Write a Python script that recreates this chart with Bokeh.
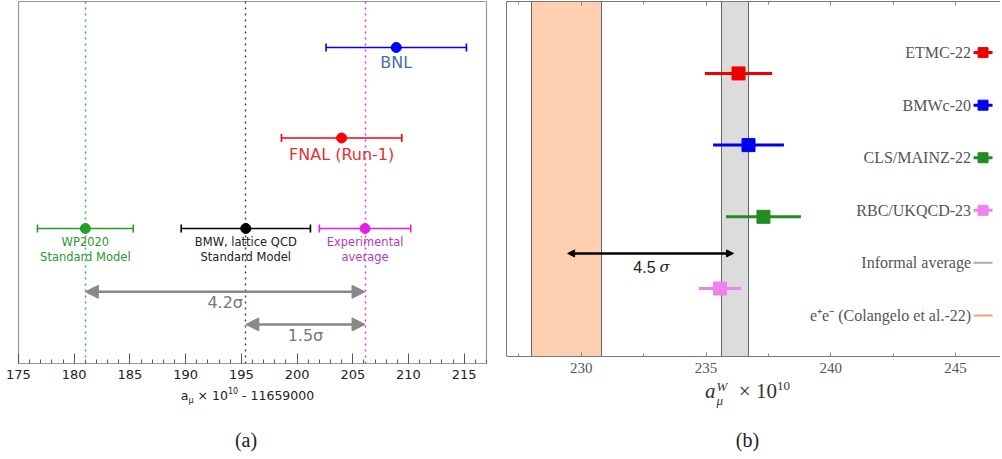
import numpy as np
from bokeh.plotting import figure
from bokeh.models import (Range1d, SingleIntervalTicker, Arrow, NormalHead,
                          LinearAxis, CustomJSTickFormatter, Div)
from bokeh.layouts import row, column
from bokeh.embed import file_html
from bokeh.resources import INLINE
from bokeh.core.properties import value

# ---------------- Panel (a) data ----------------
a_names = ["BNL", "FNAL (Run-1)", "WP2020", "BMW, lattice QCD", "Experimental"]
a_sub = ["", "", "Standard Model", "Standard Model", "average"]
a_values = [208.9, 204.0, 181.0, 195.4, 206.1]
a_errors = [6.3, 5.4, 4.3, 5.8, 4.1]
a_rows = [4, 3, 2, 2, 2]
a_colors = ["#0000ff", "#ff0000", "#22a022", "#000000", "#e21fe2"]
a_text_colors = ["#4a6fae", "#e83030", "#2e962e", "#222222", "#b43cb4"]
a_line_colors = ["#33bb33", "#444444", "#dd33dd"]

sig_labels = ["4.2σ", "1.5σ"]
sig_from = [181.0, 195.4]
sig_to = [206.1, 206.1]
sig_rows = [1.30, 0.94]

# ---------------- Panel (b) data ----------------
b_names = ["ETMC-22", "BMWc-20", "CLS/MAINZ-22", "RBC/UKQCD-23"]
b_values = [236.3, 236.7, 237.3, 235.56]
b_errors = [1.35, 1.42, 1.5, 0.85]
b_rows = [4, 3, 2, 1]
b_colors = ["#ee0000", "#0000ee", "#228b22", "#ee82ee"]

band_names = ["Informal average", "e⁺e⁻ (Colangelo et al.-22)"]
band_center = [236.16, 229.4]
band_half = [0.55, 1.4]
band_fill = ["#dcdcdc", "#fdd0b2"]
band_legend = ["#aaaaaa", "#f4a070"]

arrow_b_from = 229.45
arrow_b_to = 236.1
arrow_b_row = 1.49
arrow_b_label = "4.5"

# ================= Figure (a) =================
SANS = "DejaVu Sans"
pa = figure(width=495, height=396, x_range=Range1d(175, 217), y_range=Range1d(0.508, 4.508),
            output_backend="svg", toolbar_location=None,
            min_border_left=18, min_border_right=9, min_border_top=1, min_border_bottom=33)
pa.xgrid.visible = False
pa.ygrid.visible = False
pa.yaxis.visible = False
pa.outline_line_color = "#999999"
pa.outline_line_width = 1.2
pa.background_fill_color = "white"
pa.border_fill_color = "white"

xa = pa.xaxis[0]
xa.ticker = SingleIntervalTicker(interval=5, num_minor_ticks=5)
xa.axis_line_color = "#999999"
xa.axis_line_width = 1.2
xa.major_tick_in = 10
xa.major_tick_out = 0
xa.minor_tick_in = 4
xa.minor_tick_out = 0
xa.major_tick_line_color = "#555555"
xa.minor_tick_line_color = "#555555"
xa.major_label_text_font = SANS
xa.major_label_text_font_size = "13px"
xa.major_label_text_color = "#222222"
xa.major_label_standoff = 6

# dotted vertical lines at theory / experiment values
pa.vspan(x=a_values[2:], line_color=a_line_colors, line_dash="dotted", line_width=1.5)

# error bars
lo = [v - e for v, e in zip(a_values, a_errors)]
hi = [v + e for v, e in zip(a_values, a_errors)]
pa.segment(x0=lo, y0=a_rows, x1=hi, y1=a_rows, line_color=a_colors, line_width=1.6)
pa.scatter(x=lo + hi, y=a_rows + a_rows, marker="dash", angle=np.pi / 2, size=8,
           line_color=a_colors + a_colors, line_width=1.6)
pa.scatter(x=a_values, y=a_rows, size=10, fill_color=a_colors, line_color=a_colors)

# labels
big = [0, 1]
pa.text(x=[a_values[i] for i in big], y=[a_rows[i] for i in big],
        text=[a_names[i] for i in big], y_offset=[15, 17],
        text_color=[a_text_colors[i] for i in big], text_font=value(SANS),
        text_font_size=value("16px"), text_align="center", text_baseline="middle")
small = [2, 3, 4]
pa.text(x=[a_values[i] for i in small], y=[a_rows[i] for i in small],
        text=[a_names[i] for i in small], y_offset=14,
        text_color=[a_text_colors[i] for i in small], text_font=value(SANS),
        text_font_size=value("11.5px"), text_align="center", text_baseline="middle")
pa.text(x=[a_values[i] for i in small], y=[a_rows[i] for i in small],
        text=[a_sub[i] for i in small], y_offset=29,
        text_color=[a_text_colors[i] for i in small], text_font=value(SANS),
        text_font_size=value("11.5px"), text_align="center", text_baseline="middle")

# sigma arrows
for x0, x1, yy in zip(sig_from, sig_to, sig_rows):
    pa.add_layout(Arrow(start=NormalHead(size=13, fill_color="#888888", line_color="#888888"),
                        end=NormalHead(size=13, fill_color="#888888", line_color="#888888"),
                        x_start=x0, y_start=yy, x_end=x1, y_end=yy,
                        line_color="#888888", line_width=2.5))
pa.text(x=[(a + b) / 2 for a, b in zip(sig_from, sig_to)], y=sig_rows, text=sig_labels,
        y_offset=11, text_color="#777777", text_font=value(SANS),
        text_font_size=value("16px"), text_align="center", text_baseline="middle")

# ================= Figure (b) =================
SERIF = "Liberation Serif"
pb = figure(width=505, height=396, x_range=Range1d(227, 246.8), y_range=Range1d(0.052, 5.003),
            output_backend="svg", toolbar_location=None,
            min_border_left=11, min_border_right=0, min_border_top=1, min_border_bottom=40)
pb.xgrid.visible = False
pb.ygrid.visible = False
pb.outline_line_color = None
pb.background_fill_color = "white"
pb.border_fill_color = "white"

empty = CustomJSTickFormatter(code="return ''")
ya = pb.yaxis[0]
ya.axis_line_color = "#777777"
ya.major_tick_line_color = None
ya.minor_tick_line_color = None
ya.formatter = empty
ya.major_label_text_font_size = "0px"
ya.major_label_standoff = 0

xb = pb.xaxis[0]
xb.ticker = SingleIntervalTicker(interval=5, num_minor_ticks=2)
xb.axis_line_color = "#777777"
xb.major_tick_in = 4
xb.major_tick_out = 0
xb.minor_tick_in = 3
xb.minor_tick_out = 0
xb.major_tick_line_color = "#888888"
xb.minor_tick_line_color = "#888888"
xb.major_label_text_font = SERIF
xb.major_label_text_font_size = "15px"
xb.major_label_text_color = "#555555"
xb.major_label_standoff = 6

top = LinearAxis(ticker=SingleIntervalTicker(interval=5, num_minor_ticks=2), formatter=empty,
                 axis_line_color="#777777", major_tick_in=4, major_tick_out=0,
                 minor_tick_in=3, minor_tick_out=0, major_tick_line_color="#888888",
                 minor_tick_line_color="#888888", major_label_text_font_size="0px",
                 major_label_standoff=0)
pb.add_layout(top, "above")

# bands
pb.vstrip(x0=[c - h for c, h in zip(band_center, band_half)],
          x1=[c + h for c, h in zip(band_center, band_half)],
          fill_color=band_fill, line_color="#666666", line_width=1)

# 4.5 sigma arrow
pb.add_layout(Arrow(start=NormalHead(size=7, fill_color="black", line_color="black"),
                    end=NormalHead(size=7, fill_color="black", line_color="black"),
                    x_start=arrow_b_from, y_start=arrow_b_row, x_end=arrow_b_to, y_end=arrow_b_row,
                    line_color="black", line_width=2.5))
xm = (arrow_b_from + arrow_b_to) / 2
pb.text(x=[xm], y=[arrow_b_row], text=[arrow_b_label], x_offset=5, y_offset=14,
        text_font=value("Liberation Sans"), text_font_size=value("16px"), text_color="#222222",
        text_align="right", text_baseline="middle")
pb.text(x=[xm], y=[arrow_b_row], text=["σ"], x_offset=9, y_offset=14,
        text_font=value("DejaVu Serif"), text_font_style="italic", text_font_size=value("15px"),
        text_color="#222222", text_align="left", text_baseline="middle")

# lattice points
blo = [v - e for v, e in zip(b_values, b_errors)]
bhi = [v + e for v, e in zip(b_values, b_errors)]
pb.segment(x0=blo, y0=b_rows, x1=bhi, y1=b_rows, line_color=b_colors, line_width=3)
pb.scatter(x=b_values, y=b_rows, marker="square", size=13, fill_color=b_colors, line_color=b_colors)

# legend (labels left of markers)
leg_x = 246.1
leg_names = b_names + band_names
leg_y = [4.29 - 0.733 * k for k in range(len(leg_names))]
nb = len(b_names)
pb.scatter(x=[leg_x] * nb, y=leg_y[:nb], marker="dash", size=19, line_width=3, line_color=b_colors)
pb.scatter(x=[leg_x] * nb, y=leg_y[:nb], marker="square", size=10, fill_color=b_colors,
           line_color=b_colors)
pb.scatter(x=[leg_x] * len(band_names), y=leg_y[nb:], marker="dash", size=19, line_width=2,
           line_color=band_legend)
pb.text(x=[leg_x] * len(leg_names), y=leg_y, text=leg_names, x_offset=-12,
        text_font=value(SERIF), text_font_size=value("16px"), text_color="#555555",
        text_align="right", text_baseline="middle")

# ================= axis titles and captions (HTML text) =================
title_a = ("<div style=\"padding-left:14px;width:481px;text-align:center;font-family:'DejaVu Sans';"
           "font-size:12.5px;line-height:15px;color:#222;white-space:nowrap;position:relative;top:-8px\">"
           "a<span style=\"font-size:8px;position:relative;top:3px\">μ</span> × 10"
           "<span style=\"font-size:8px;position:relative;top:-6px\">10</span> - 11659000</div>"
           "<div style=\"width:492px;margin-top:16px;text-align:center;font-family:'Liberation Serif';"
           "font-size:20px;line-height:22px;color:#222\">(a)</div>")
title_b = ("<div style=\"padding-left:15px;width:490px;text-align:center;font-family:'Liberation Serif';"
           "font-size:21px;line-height:19px;color:#333;white-space:nowrap;position:relative;top:-14px\">"
           "<i>a</i><span style=\"display:inline-block;position:relative;width:18px;height:10px\">"
           "<i style=\"position:absolute;left:1px;top:6px;font-size:13px;line-height:13px\">μ</i>"
           "<i style=\"position:absolute;left:1px;top:-8px;font-size:13px;line-height:13px\">W</i></span>"
           " × 10<span style=\"font-size:13px;position:relative;top:-8px\">10</span></div>"
           "<div style=\"padding-left:15px;width:490px;margin-top:12px;text-align:center;"
           "font-family:'Liberation Serif';font-size:20px;line-height:22px;color:#222\">(b)</div>")
div_a = Div(text=title_a, width=495, height=56, margin=0)
div_b = Div(text=title_b, width=505, height=56, margin=0)

layout = row(column(pa, div_a), column(pb, div_b))
open("out.html", "w").write(file_html(layout, INLINE))
